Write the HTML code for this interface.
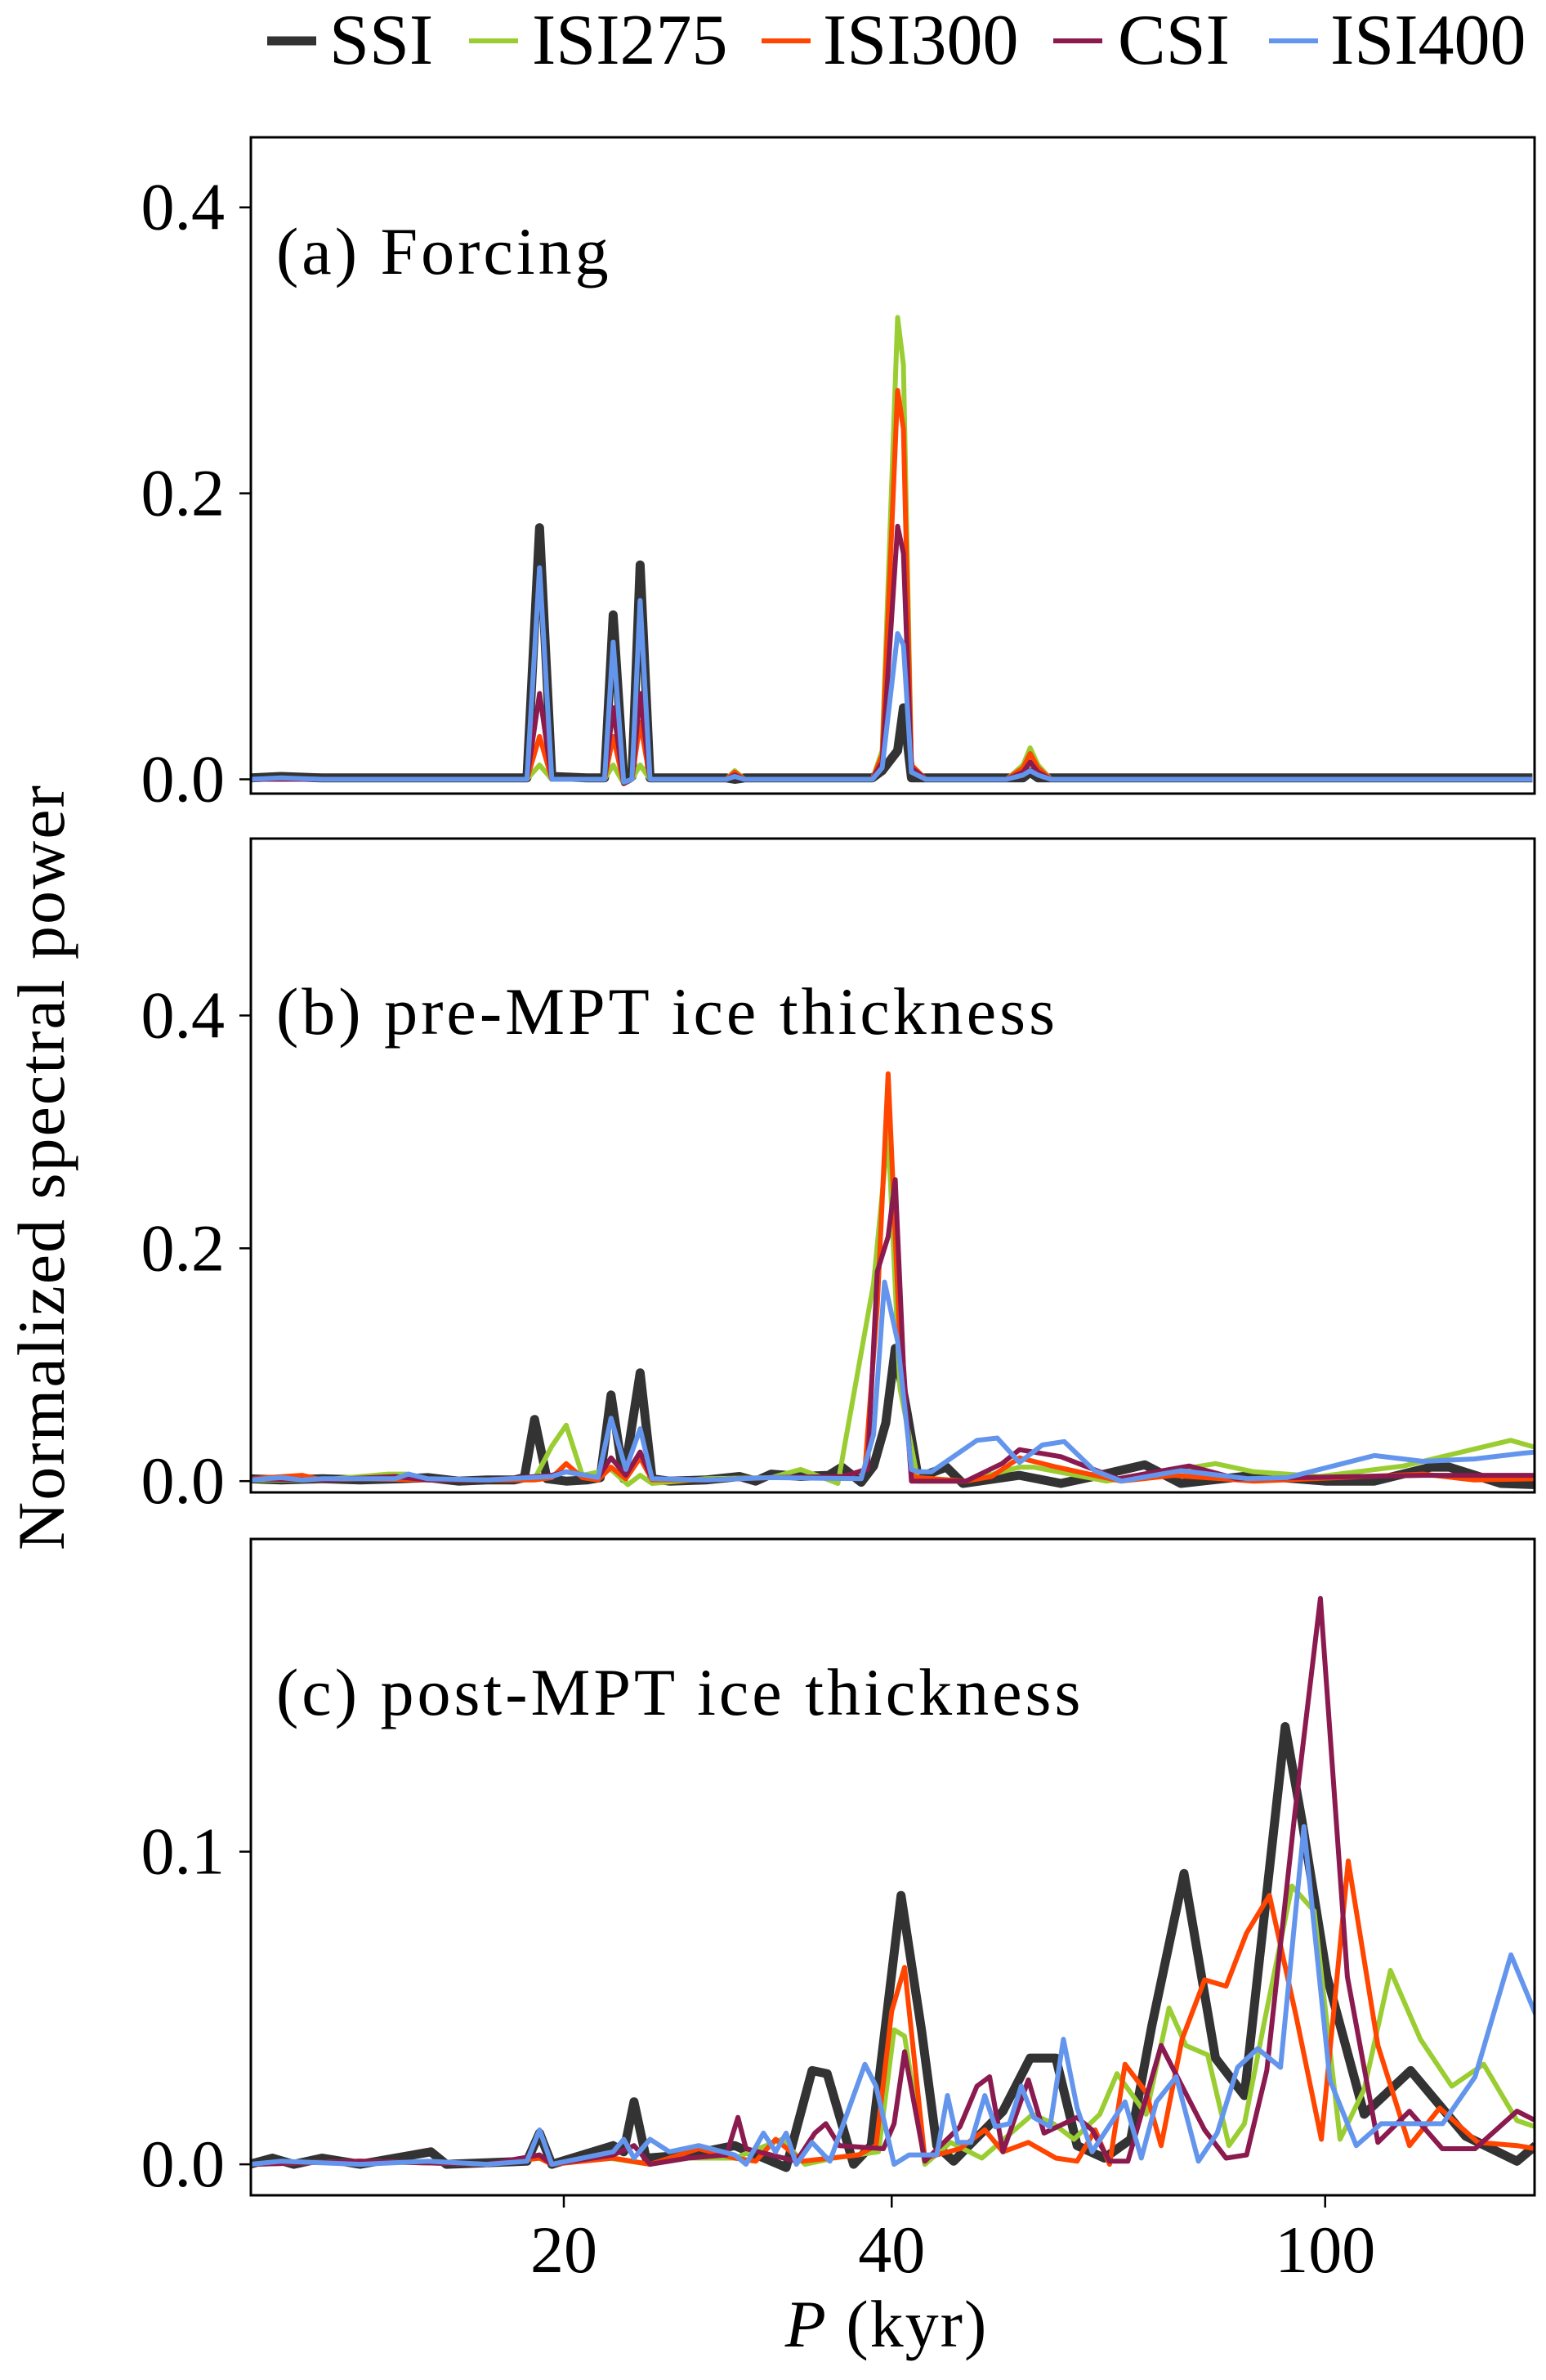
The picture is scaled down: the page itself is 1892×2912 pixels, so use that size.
<!DOCTYPE html>
<html><head><meta charset="utf-8"><style>
html,body{margin:0;padding:0;background:#fff;}
svg{display:block;font-family:"Liberation Serif",serif;}
</style></head><body>
<svg id="chart" width="1892" height="2912" viewBox="0 0 1892 2912" xmlns="http://www.w3.org/2000/svg">
<g id="legend"></g>
<g id="panels"></g>
<text transform="translate(78,1428) rotate(-90)" text-anchor="middle" font-size="82" letter-spacing="2">Normalized spectral power</text>
<text x="1085" y="2871" text-anchor="middle" font-size="82" letter-spacing="2"><tspan font-style="italic">P</tspan> (kyr)</text>
</svg>
<script>
const seriesNames = ["SSI","ISI275","ISI300","CSI","ISI400"];
const seriesColors = ["#333333","#9acd32","#ff4500","#8b1a4f","#6495ed"];
const seriesWidths = [11,6,6,6,6];
const xTicks = [20,40,100];
const xTickLabels = ["20","40","100"];
const yTicksA = [0,0.2,0.4];
const yTicksB = [0,0.2,0.4];
const yTicksC = [0,0.1];
const panelTitles = ["(a) Forcing","(b) pre-MPT ice thickness","(c) post-MPT ice thickness"];

// Panel (a) forcing: shared period grid
const aPeriods = [10.3,11,12,14,16,18.5,19.0,19.5,21,21.8,22.2,22.7,23.1,23.5,24,26,28.2,28.7,29.3,33,38.4,39.2,40.5,41.0,41.7,43,51,52.8,53.6,54.5,56,80,155];
const aSSI    = [0.001,0.002,0.001,0.001,0.001,0.001,0.176,0.002,0.001,0.001,0.115,0.002,0.002,0.150,0.001,0.001,0.001,0.0,0.001,0.001,0.001,0.006,0.02,0.050,0.001,0.001,0.001,0.001,0.005,0.001,0.001,0.001,0.001];
const aISI275 = [0,0,0,0,0,0,0.01,0,0,0,0.01,-0.003,0,0.01,0,0,0,0.006,0,0,0,0.02,0.323,0.29,0.01,0,0,0.01,0.022,0.01,0,0,0];
const aISI300 = [0,0,0,0,0,0,0.03,0,0,0,0.03,-0.003,0,0.04,0,0,0,0.005,0,0,0,0.017,0.272,0.245,0.01,0,0,0.008,0.018,0.008,0,0,0];
const aCSI    = [0,0,0,0,0,0,0.06,0,0,0,0.05,-0.003,0,0.06,0,0,0,0.003,0,0,0,0.012,0.177,0.158,0.008,0,0,0.005,0.012,0.005,0,0,0];
const aISI400 = [0,0.001,0,0,0,0,0.148,0,0,0,0.096,-0.002,0,0.125,0,0,0,0.002,0,0,0,0.008,0.102,0.094,0.005,0,0,0.003,0.006,0.003,0,0,0];

// Panel (b) pre-MPT: [period, power]
const bSSI = [[10.3,0.002],[11,0.001],[12,0.002],[13,0.001],[14.2,0.002],[15,0.003],[16,0],[17,0.001],[18,0.001],[18.4,0.003],[18.8,0.053],[19.3,0.002],[20.1,0],[21,0.001],[21.6,0.003],[22.1,0.074],[22.7,0.002],[23.5,0.093],[24.1,0.002],[25,0],[27,0.001],[29,0.004],[30,0],[31,0.006],[33,0.004],[35,0.005],[36,0.012],[37.5,-0.001],[38.5,0.013],[39.5,0.05],[40.3,0.114],[41.3,0.06],[42.3,0.003],[44.9,0.012],[46.5,-0.002],[52.4,0.005],[57.2,-0.002],[62,0.005],[68.3,0.014],[73.7,-0.002],[86,0.005],[100,0],[111,0],[125,0.012],[130,0.012],[145,-0.002],[156,-0.003]];
const bISI275 = [[10.3,0.001],[12,0.001],[13.8,0.006],[14.4,0.006],[15,0.001],[17,0.001],[18.8,0.002],[19.5,0.03],[20.1,0.048],[20.8,0.005],[22.1,0.01],[22.9,-0.003],[23.5,0.005],[24.1,-0.002],[27,0.002],[31,0.003],[33,0.01],[35.7,-0.002],[38.5,0.17],[39.7,0.30],[40.7,0.08],[42.3,0],[46.8,0],[52.4,0.012],[54,0.012],[63,0],[79.3,0.015],[86,0.008],[98.8,0.004],[118,0.013],[148,0.035],[156,0.029]];
const bISI300 = [[10.3,0.002],[11.5,0.005],[12,0.001],[13,0.002],[15,0.001],[17,0.001],[18.8,0.001],[19.5,0.003],[20.1,0.015],[20.8,0.003],[21.5,0.001],[22.1,0.012],[22.8,0.002],[23.5,0.02],[24.1,0.001],[27,0.001],[31,0.003],[36,0.003],[37.8,0.01],[38.8,0.15],[39.7,0.35],[40.7,0.12],[41.7,0.005],[42.3,0.003],[46.8,0],[49.4,0.004],[52.4,0.02],[56.7,0.012],[65,0],[72.6,0.005],[86,0],[123,0.006],[137,0.001],[156,0.002]];
const bCSI = [[10.3,0.002],[12,0.001],[14,0.004],[15,0.001],[17,0.001],[19.5,0.005],[20.1,0.008],[21.5,0.003],[22.1,0.02],[22.8,0.005],[23.5,0.025],[24.1,0.002],[27,0.001],[31,0.003],[36,0.004],[38,0.01],[38.8,0.18],[39.7,0.21],[40.3,0.259],[41,0.1],[41.7,0],[46.8,0],[50.5,0.015],[52.4,0.027],[57.2,0.021],[64.5,0.002],[75,0.013],[83,0.002],[123,0.005],[156,0.005]];
const bISI400 = [[10.3,0.001],[11,0.003],[11.5,0.001],[12,0.002],[14,0.002],[14.4,0.006],[15,0.002],[17,0.001],[19.5,0.004],[20.1,0.008],[21.5,0.003],[22.1,0.054],[22.8,0.01],[23.5,0.045],[24.1,0.002],[27,0.001],[31,0.003],[37.5,0.002],[38.5,0.04],[39.4,0.171],[40.5,0.12],[41.7,0.01],[42.3,0.008],[43.5,0.008],[47.9,0.035],[50,0.037],[52.4,0.016],[55,0.031],[57.6,0.034],[61.4,0.009],[65,0],[73.7,0.009],[85,0.002],[92.3,0.003],[111,0.022],[123,0.017],[137,0.019],[152,0.024],[156,0.025]];

// Panel (c) post-MPT: [period, power]
const cSSI = [[10.3,0],[10.8,0.002],[11.3,0],[12,0.002],[13,0],[15.1,0.004],[15.6,0],[18.5,0.001],[19,0.01],[19.5,0],[22.2,0.006],[22.7,0.004],[23.2,0.02],[23.8,0.002],[26,0.003],[28.7,0.006],[32.0,-0.001],[33.8,0.030],[34.9,0.029],[36.9,0],[38.3,0.006],[40.8,0.086],[42.6,0.043],[44,0.006],[45.6,0.001],[50.6,0.017],[53.6,0.034],[56.6,0.034],[59.2,0.006],[62.7,0.002],[66.3,0.008],[69.3,0.044],[74.2,0.093],[79.3,0.034],[84.3,0.022],[91.9,0.140],[95.2,0.110],[100.4,0.060],[108.6,0.016],[119.8,0.030],[134.6,0.009],[150,0.001],[156,0.006]];
const cISI275 = [[10.3,0],[13,0.001],[17,0],[19,0.002],[19.5,0],[22,0.002],[24,0],[26,0.002],[28.7,0.002],[31.7,0.008],[33.3,0],[35.4,0.002],[38.9,0.004],[40.2,0.043],[41.1,0.041],[42.9,0],[45.3,0.007],[48.4,0.002],[53.9,0.016],[56.3,0.013],[58.8,0.008],[62.1,0.016],[64.4,0.029],[68.5,0.016],[71.9,0.050],[74.5,0.038],[78,0.035],[81.6,0.006],[84.3,0.013],[88,0.046],[93.2,0.089],[97.7,0.081],[103.2,0.008],[108.6,0.024],[114.8,0.062],[122.3,0.040],[130.7,0.025],[139.8,0.032],[150,0.014],[156,0.012]];
const cISI300 = [[10.3,0],[13,0.001],[17,0],[19,0.002],[19.5,0],[22.2,0.002],[24,0],[26.6,0.005],[28.7,0.002],[30,0.001],[31.3,0.008],[33.1,0.001],[37.3,0.003],[38.7,0.006],[40.0,0.049],[41.1,0.063],[42.9,0.002],[46.2,0.005],[48.7,0.011],[50.6,0.004],[53.4,0.007],[56.6,0.002],[59.2,0.001],[61.5,0.011],[63.4,0],[65.5,0.032],[68.5,0.023],[70.7,0.006],[73.9,0.040],[77.5,0.059],[81.1,0.057],[84.7,0.074],[88.9,0.086],[94.1,0.047],[99.2,0.008],[105,0.097],[111.8,0.038],[119.5,0.006],[127.4,0.018],[138.1,0.007],[150,0.006],[156,0.005]];
const cCSI = [[10.3,0],[13,0.001],[17,0],[19,0.003],[19.5,0],[22.2,0.003],[23.2,0.006],[24,0],[26,0.002],[28.2,0.003],[28.9,0.015],[29.4,0.005],[32.7,0.001],[34,0.010],[34.8,0.013],[35.8,0.006],[39.3,0.005],[40.2,0.013],[41.1,0.036],[42.9,0.001],[46.2,0.012],[47.9,0.025],[49.2,0.028],[50.6,0.004],[53.4,0.027],[55.2,0.010],[59.2,0.015],[61.1,0.011],[63.4,0.001],[65.9,0.001],[70.7,0.038],[73.9,0.025],[77.5,0.011],[81.1,0.002],[84.7,0.003],[88.4,0.030],[93.7,0.111],[99,0.181],[104.8,0.060],[111.8,0.007],[119.5,0.017],[128.1,0.005],[137.3,0.005],[150,0.017],[156,0.014]];
const cISI400 = [[10.3,0],[11,0.001],[13,0],[15,0.001],[17,0],[18.5,0.001],[19,0.011],[19.5,0],[22.2,0.004],[22.7,0.008],[23.2,0.002],[24,0.008],[25,0.004],[26.6,0.006],[28.7,0.003],[29.4,0],[30.5,0.010],[31.3,0.004],[32,0.010],[32.7,0],[33.8,0.007],[35.1,0.001],[37.8,0.032],[38.7,0.025],[40.2,0],[41.5,0.003],[44,0.003],[45,0.022],[46,0.007],[47.3,0.007],[48.7,0.022],[49.8,0.012],[51.3,0.013],[52.6,0.025],[54,0.015],[55.9,0.012],[57.5,0.040],[59.2,0.018],[61.1,0.004],[65.5,0.020],[67.8,0.002],[70,0.020],[73,0.028],[76.5,0.001],[79.6,0.010],[83.1,0.031],[86.7,0.037],[91,0.031],[95.6,0.108],[101,0.027],[106.8,0.006],[112.6,0.013],[128.2,0.013],[137.3,0.028],[148.1,0.067],[156,0.048]];

const NS = "http://www.w3.org/2000/svg";
function mk(tag, attrs, parent){const e=document.createElementNS(NS,tag);for(const k in attrs)e.setAttribute(k,attrs[k]);parent.appendChild(e);return e;}

const X0 = 307, X1 = 1878;
function xScale(p){return 690 + (Math.log10(p) - Math.log10(20)) * 1333;}

const panels = [
  {id:"a", top:168, bottom:971, ymin:-0.01, ymax:0.449, ticks:yTicksA,
   series:[aSSI,aISI275,aISI300,aCSI,aISI400].map(v=>aPeriods.map((p,i)=>[p,v[i]])), ty:335, xt:false},
  {id:"b", top:1026, bottom:1826, ymin:-0.0097, ymax:0.552, ticks:yTicksB,
   series:[bSSI,bISI275,bISI300,bCSI,bISI400], ty:1265, xt:false},
  {id:"c", top:1883, bottom:2686, ymin:-0.0099, ymax:0.2, ticks:yTicksC,
   series:[cSSI,cISI275,cISI300,cCSI,cISI400], ty:2098, xt:true}
];

const root = document.getElementById('panels');
panels.forEach((pn,pi)=>{
  const yScale = v => pn.bottom - (v - pn.ymin) / (pn.ymax - pn.ymin) * (pn.bottom - pn.top);
  const g = mk('g',{},root);
  
  
  const cp = mk('clipPath',{id:'clip'+pn.id},g);
  mk('rect',{x:X0,y:pn.top,width:X1-X0,height:pn.bottom-pn.top},cp);
  const lines = mk('g',{'clip-path':'url(#clip'+pn.id+')'},g);
  pn.series.forEach((data,si)=>{
    const pts = data.map(d=>xScale(d[0]).toFixed(1)+','+yScale(d[1]).toFixed(1)).join(' ');
    const pl = mk('polyline',{points:pts,fill:'none',stroke:seriesColors[si],'stroke-width':seriesWidths[si],'stroke-linejoin':'round','stroke-linecap':'butt'},lines);
    
    
  });
  const fr = mk('rect',{x:X0,y:pn.top,width:X1-X0,height:pn.bottom-pn.top,fill:'none',stroke:'#000','stroke-width':3},g);
  
  
  pn.ticks.forEach(t=>{
    const y = yScale(t);
    const tk = mk('line',{x1:X0-14,x2:X0,y1:y,y2:y,stroke:'#000','stroke-width':2.5},g);
    
    
    const lb = mk('text',{x:275,y:y+27,'text-anchor':'end','font-size':82},g);
    
    
    lb.textContent = t.toFixed(1);
  });
  const tt = mk('text',{x:338,y:pn.ty,'font-size':82,'letter-spacing':4},g);
  
  
  tt.textContent = panelTitles[pi];
  if(pn.xt){
    xTicks.forEach((p,i)=>{
      const x = xScale(p);
      const tk = mk('line',{x1:x,x2:x,y1:pn.bottom,y2:pn.bottom+15,stroke:'#000','stroke-width':2.5},g);
      
      
      const lb = mk('text',{x:x,y:2780,'text-anchor':'middle','font-size':82},g);
      
      
      lb.textContent = xTickLabels[i];
    });
  }
});

const legendX = [[327,403],[574,651],[932,1007],[1289,1368],[1553,1628]];
const lg = document.getElementById('legend');
seriesNames.forEach((n,i)=>{
  const e = mk('g',{},lg);
  
  
  mk('line',{x1:legendX[i][0],x2:legendX[i][0]+60,y1:50,y2:50,stroke:seriesColors[i],'stroke-width':seriesWidths[i]},e);
  const t = mk('text',{x:legendX[i][1],y:78,'font-size':88},e);
  t.textContent = n;
});
</script>
</body></html>
